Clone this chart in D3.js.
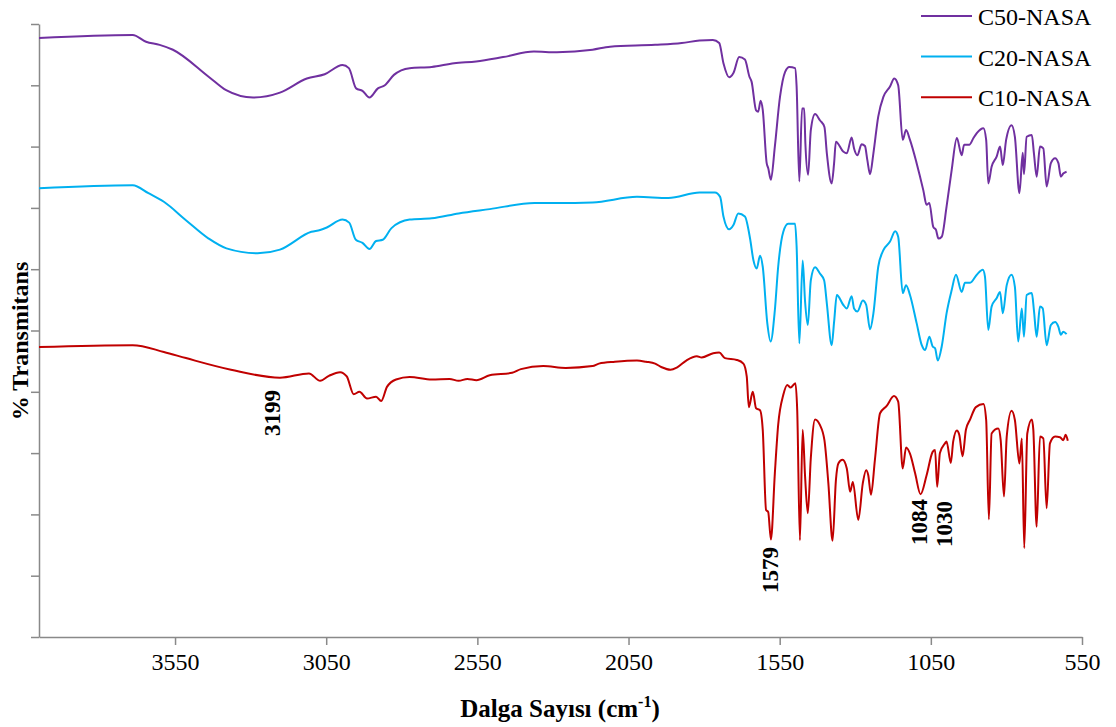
<!DOCTYPE html>
<html>
<head>
<meta charset="utf-8">
<script src="https://cdn.jsdelivr.net/npm/d3@7"></script>
<style>
  body { margin: 0; background: #fff; }
  svg { display: block; font-family: "Liberation Serif", "Times New Roman", serif; }
</style>
</head>
<body>
<script>
// FTIR spektrumlari: [dalga sayisi, %T (ust uste kaydirilmis)]
const c50Data = [[4000,97.7],[3690,98.2],[3646,97.1],[3601,96.6],[3557,95.8],[3439,91.4],[3381,89.2],[3292,88.0],[3203,88.8],[3114,91.1],[3055,91.8],[2996,93.3],[2975,92.8],[2951,89.5],[2930,89.1],[2907,88.0],[2879,89.5],[2856,90.0],[2826,91.7],[2774,92.8],[2701,93.0],[2627,93.6],[2554,93.9],[2465,94.6],[2363,95.5],[2287,95.4],[2169,95.8],[2111,96.3],[1962,96.6],[1874,96.9],[1815,97.3],[1771,97.4],[1750,96.9],[1736,93.6],[1717,91.3],[1703,92.0],[1684,94.6],[1665,94.2],[1650,91.4],[1643,90.6],[1628,85.9],[1621,85.7],[1613,87.5],[1606,86.0],[1593,77.3],[1588,76.5],[1579,74.6],[1566,80.0],[1549,88.1],[1532,92.2],[1518,93.0],[1499,92.8],[1494,89.8],[1485,74.3],[1476,86.2],[1469,86.2],[1465,80.5],[1456,75.4],[1447,82.7],[1433,85.3],[1417,84.3],[1402,83.2],[1394,78.9],[1378,74.0],[1370,77.3],[1364,80.8],[1340,79.2],[1328,78.9],[1312,81.5],[1304,79.7],[1293,78.6],[1279,80.4],[1268,80.1],[1260,77.8],[1251,75.5],[1240,78.9],[1224,84.9],[1207,88.1],[1185,89.8],[1171,91.1],[1158,90.0],[1143,81.1],[1132,82.7],[1119,81.1],[1097,77.3],[1075,72.9],[1064,70.5],[1055,70.8],[1042,66.9],[1033,66.4],[1025,65.0],[1014,65.3],[998,70.2],[981,76.2],[964,81.4],[948,78.6],[940,80.3],[923,80.3],[909,81.4],[898,82.2],[876,83.0],[867,81.1],[860,74.0],[849,76.7],[832,78.4],[821,80.0],[812,77.0],[801,81.1],[783,83.5],[772,81.6],[757,72.4],[746,79.0],[742,75.5],[733,81.6],[716,81.9],[709,78.9],[700,75.1],[689,80.0],[678,79.7],[667,73.5],[653,77.3],[639,78.1],[628,77.3],[620,75.1],[612,75.6],[601,75.9]];

const c20Data = [[4000,73.2],[3690,73.7],[3638,72.4],[3587,71.0],[3514,68.0],[3439,65.0],[3380,63.4],[3277,62.6],[3203,63.2],[3099,66.1],[3070,66.4],[3048,66.8],[2996,68.1],[2974,67.6],[2952,64.8],[2930,64.3],[2907,63.3],[2885,64.6],[2863,64.8],[2834,66.7],[2774,68.1],[2701,68.3],[2612,69.1],[2509,69.8],[2361,70.8],[2287,70.8],[2169,70.9],[2022,71.8],[1918,71.6],[1815,72.5],[1764,72.5],[1747,71.8],[1736,68.6],[1717,66.5],[1703,67.2],[1687,69.1],[1665,68.6],[1648,65.0],[1637,61.5],[1626,60.1],[1615,62.2],[1606,60.4],[1591,51.2],[1580,48.2],[1566,53.3],[1555,60.4],[1538,66.1],[1522,67.4],[1499,67.4],[1494,63.7],[1485,47.9],[1474,61.4],[1466,54.7],[1457,50.9],[1447,58.2],[1433,60.3],[1417,59.3],[1403,58.2],[1394,54.4],[1378,47.6],[1370,51.4],[1361,55.8],[1340,54.2],[1328,53.6],[1312,55.6],[1304,53.6],[1293,53.1],[1275,54.9],[1264,54.2],[1251,50.2],[1240,52.8],[1224,60.4],[1207,63.1],[1185,64.5],[1168,66.2],[1158,65.3],[1143,56.1],[1132,57.4],[1119,55.8],[1097,51.2],[1080,47.6],[1069,46.8],[1055,49.0],[1044,47.4],[1036,47.1],[1027,45.1],[1014,47.4],[998,52.8],[981,56.6],[967,59.1],[948,56.3],[937,57.8],[920,57.8],[898,59.1],[878,59.9],[871,58.8],[860,50.1],[849,53.9],[832,55.3],[821,56.3],[812,52.8],[799,57.4],[783,59.1],[772,57.1],[761,48.2],[749,53.6],[742,49.0],[733,55.8],[716,56.1],[709,53.3],[700,49.0],[689,53.9],[680,53.6],[667,47.6],[653,50.9],[639,51.4],[628,50.6],[620,49.3],[612,49.8],[601,49.4]];

const c10Data = [[4000,47.3],[3690,47.6],[3587,46.5],[3514,45.5],[3365,43.6],[3203,42.3],[3107,43.0],[3070,41.8],[3041,42.6],[3004,43.2],[2982,42.5],[2959,39.6],[2940,40.0],[2915,38.9],[2885,39.2],[2868,38.5],[2849,40.8],[2819,42.0],[2774,42.4],[2701,42.0],[2642,42.1],[2612,41.8],[2583,42.1],[2553,41.9],[2509,42.7],[2435,43.1],[2406,43.7],[2332,44.2],[2258,43.9],[2169,44.2],[2148,44.6],[2095,44.9],[2022,45.1],[1992,44.9],[1962,44.6],[1940,44.0],[1911,43.6],[1889,44.0],[1859,45.1],[1824,45.8],[1808,45.6],[1770,46.3],[1750,46.4],[1731,45.5],[1692,45.2],[1670,44.6],[1659,42.5],[1652,37.5],[1639,40.0],[1628,37.3],[1615,37.0],[1606,33.8],[1595,20.7],[1588,20.4],[1579,15.9],[1566,26.7],[1555,34.6],[1538,39.5],[1525,41.1],[1514,40.7],[1498,41.4],[1492,37.0],[1483,15.8],[1474,33.8],[1466,26.2],[1457,20.2],[1447,29.2],[1433,35.5],[1417,34.6],[1402,32.1],[1389,25.1],[1375,15.7],[1364,25.6],[1356,28.3],[1342,28.9],[1328,27.5],[1317,23.7],[1308,25.3],[1290,19.1],[1275,25.1],[1264,27.2],[1257,26.4],[1248,23.2],[1235,28.9],[1218,36.5],[1196,37.7],[1172,39.3],[1158,38.4],[1143,27.5],[1132,30.9],[1119,29.9],[1102,26.7],[1084,23.3],[1064,26.4],[1044,30.2],[1036,30.5],[1029,24.5],[1020,30.0],[1003,31.6],[998,31.9],[984,28.4],[976,31.9],[964,33.7],[956,33.0],[945,29.5],[934,33.8],[920,35.5],[901,37.5],[876,38.0],[867,35.4],[858,19.2],[849,33.2],[827,34.0],[819,32.1],[808,22.9],[799,32.7],[783,36.9],[772,35.4],[757,28.3],[749,32.4],[741,14.5],[731,33.2],[716,35.5],[711,33.8],[700,18.0],[689,32.7],[678,32.4],[667,21.0],[656,31.6],[639,32.7],[623,32.6],[612,32.1],[604,33.0],[597,32.0]];

const seriesNames = ['C50-NASA', 'C20-NASA', 'C10-NASA'];
const seriesColors = ['#7030A0', '#00B0F0', '#C00000'];
const xTickValues = [3550, 3050, 2550, 2050, 1550, 1050, 550];
const yTickValues = [0, 10, 20, 30, 40, 50, 60, 70, 80, 90, 100];
const peakLabels = ['3199', '1579', '1084', '1030'];
const peakWaves = [3199, 1579, 1084, 1030];

const W = 1116, H = 727;
const axisGray = '#898989';
const serif = '"Liberation Serif", "Times New Roman", serif';

const svg = d3.select('body').append('svg')
  .attr('width', W)
  .attr('height', H);

svg.append('rect').attr('width', W).attr('height', H).attr('fill', '#fff');

const x = d3.scaleLinear().domain([4000, 550]).range([39, 1082]);
const y = d3.scaleLinear().domain([0, 100]).range([637, 24]);

// eksenler
const yAxis = svg.append('g')
  .attr('transform', 'translate(39,0)')
  .call(d3.axisLeft(y).tickValues(yTickValues).tickSize(8).tickSizeOuter(0).tickFormat(''));

const xAxis = svg.append('g')
  .attr('transform', 'translate(0,637)')
  .call(d3.axisBottom(x).tickValues(xTickValues).tickSize(8).tickSizeOuter(0)
    .tickPadding(8).tickFormat(d3.format('d')));

[yAxis, xAxis].forEach(g => {
  g.attr('font-family', serif).attr('font-size', 24);
  g.selectAll('path, line').attr('stroke', axisGray).attr('stroke-width', 1.5);
});
xAxis.selectAll('text').attr('fill', '#000');

// spektrum cizgileri
const line = d3.line()
  .x(d => x(d[0]))
  .y(d => y(d[1]))
  .curve(d3.curveMonotoneX);

const allSeries = [c50Data, c20Data, c10Data];
svg.selectAll('path.spec')
  .data(allSeries).enter()
  .append('path')
  .attr('class', 'spec')
  .attr('d', line)
  .attr('fill', 'none')
  .attr('stroke', (d, i) => seriesColors[i])
  .attr('stroke-width', 2)
  .attr('stroke-linejoin', 'round');

// tepe etiketleri (dikey)
const labelOffsets = [[-1, 436], [7, 593], [6, 545], [15, 547]];
svg.selectAll('text.peak')
  .data(peakLabels).enter()
  .append('text')
  .attr('class', 'peak')
  .attr('transform', (d, i) => `translate(${x(peakWaves[i]) + labelOffsets[i][0]},${labelOffsets[i][1]}) rotate(-90)`)
  .attr('font-size', 23)
  .attr('font-weight', 'bold')
  .text(d => d);

// lejant
const legend = svg.append('g');
seriesNames.forEach((name, i) => {
  const ly = 16 + i * 40.6;
  legend.append('line')
    .attr('x1', 921).attr('x2', 972)
    .attr('y1', ly).attr('y2', ly)
    .attr('stroke', seriesColors[i])
    .attr('stroke-width', 2);
  legend.append('text')
    .attr('x', 978).attr('y', ly + 9)
    .attr('font-size', 24)
    .text(name);
});

// eksen basliklari
const xTitle = svg.append('text')
  .attr('x', 560).attr('y', 717)
  .attr('text-anchor', 'middle')
  .attr('font-size', 25)
  .attr('font-weight', 'bold');
xTitle.append('tspan').text('Dalga Sayısı (cm');
xTitle.append('tspan').attr('font-size', 16).attr('dy', -10).text('-1');
xTitle.append('tspan').attr('dy', 10).text(')');

svg.append('text')
  .attr('transform', 'translate(28,341) rotate(-90)')
  .attr('text-anchor', 'middle')
  .attr('font-size', 24)
  .attr('font-weight', 'bold')
  .text('% Transmitans');
</script>
</body>
</html>
